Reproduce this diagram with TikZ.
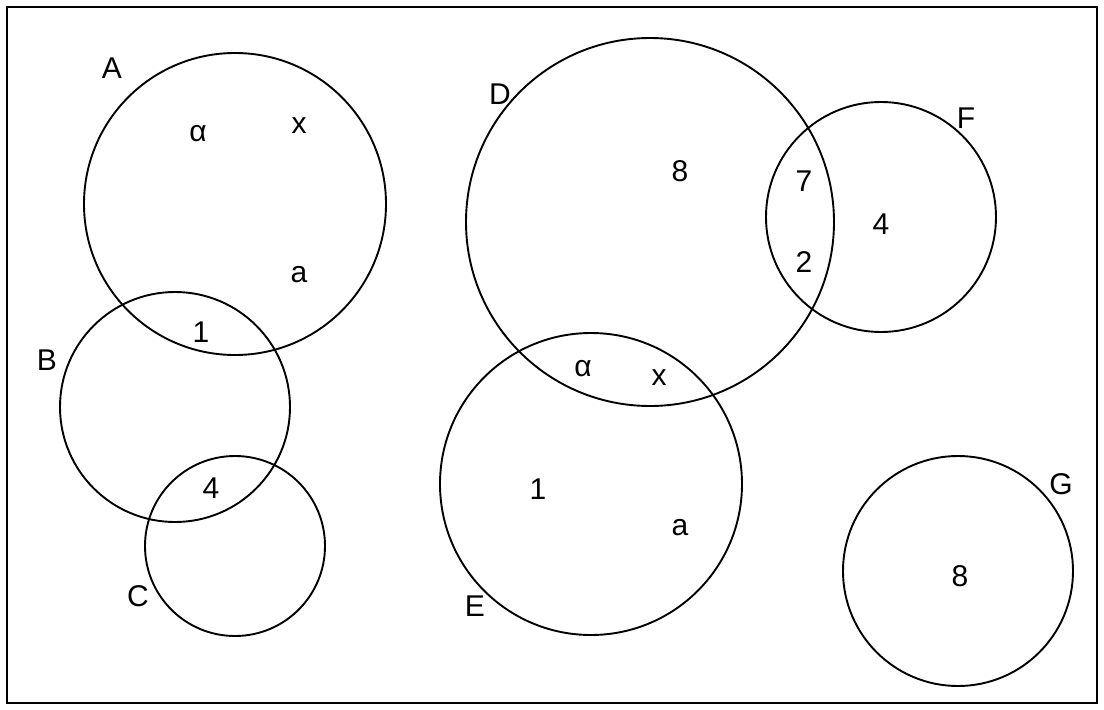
\documentclass[tikz,border=0pt]{standalone}
\usepackage{fontspec}
\setmainfont{Liberation Sans}
\begin{document}
\begin{tikzpicture}[x=1pt,y=-1pt,
  set/.style={draw=black,line width=1.9pt,circle,minimum size=#1,inner sep=0pt},
  lab/.style={font=\fontsize{30}{32}\selectfont,inner sep=0pt},
]
\useasboundingbox (0,0) rectangle (1104,710);
\draw[line width=1.9pt] (7,7) rectangle (1097,703);
% circles
\node[set=302pt] (cA) at (235,204) {};
\node[set=230pt] (cB) at (175,407) {};
\node[set=180pt] (cC) at (235,546) {};
\node[set=368pt] (cD) at (650,222) {};
\node[set=302pt] (cE) at (591,484) {};
\node[set=230pt] (cF) at (881,217) {};
\node[set=230pt] (cG) at (958,571) {};
% set labels
\node[lab] (lA) at (112,68) {A};
\node[lab] (lB) at (47,360) {B};
\node[lab] (lC) at (138,596) {C};
\node[lab] (lD) at (500,94) {D};
\node[lab] (lE) at (475,606) {E};
\node[lab] (lF) at (966,118) {F};
\node[lab] (lG) at (1061,484) {G};
% elements
\node[lab] (e1) at (198,134) {α};
\node[lab] (e2) at (299,126) {x};
\node[lab] (e3) at (299,275) {a};
\node[lab] (e4) at (201,332) {1};
\node[lab] (e5) at (211,488) {4};
\node[lab] (e6) at (680,171) {8};
\node[lab] (e7) at (804,181) {7};
\node[lab] (e8) at (804,262) {2};
\node[lab] (e9) at (881,224) {4};
\node[lab] (e10) at (583,369) {α};
\node[lab] (e11) at (659,378) {x};
\node[lab] (e12) at (538,489) {1};
\node[lab] (e13) at (680,528) {a};
\node[lab] (e14) at (960,576) {8};
\end{tikzpicture}
\end{document}
